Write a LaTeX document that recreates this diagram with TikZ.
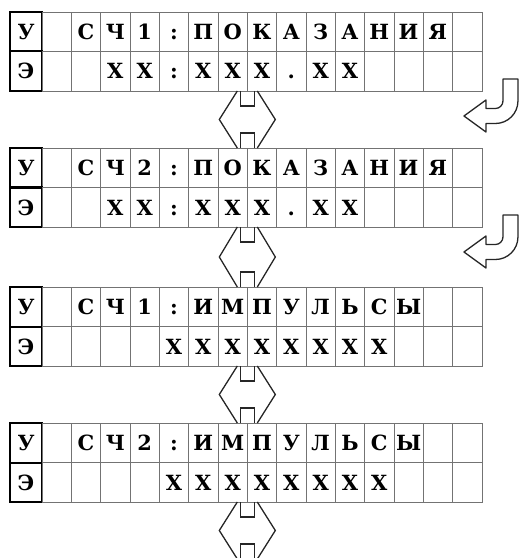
\documentclass[tikz,border=0pt]{standalone}
\usepackage{fontspec}
\newfontfamily\lcdfont{DejaVu Serif}
\usetikzlibrary{calc}

\tikzset{
  cell/.style={draw=black!55, line width=0.9bp, minimum width=29.33bp, minimum height=39.5bp,
    inner sep=0pt, outer sep=0pt, anchor=north west, text height=15.5bp, text depth=0bp,
    font=\lcdfont\bfseries\fontsize{21}{21}\selectfont},
  mode/.style={cell, draw=black, line width=2bp, minimum width=32bp},
  bar/.style={draw=black!85, line width=1.3bp},
}

% one row of a display: name, row, top, characters
\newcommand{\lcdrow}[4]{%
  \foreach \ch [count=\c] in {#4} {
    \ifnum\c=1\relax
      \node[mode] (#1-#2-\c) at (10,#3) {\ch};
    \else
      \node[cell] (#1-#2-\c) at ({42+29.33*(\c-2)},#3) {\ch};
    \fi
  }}

\begin{document}
\begin{tikzpicture}[x=1bp, y=-1bp]
  \useasboundingbox (0,0) rectangle (522,558);

  % displays
  \lcdrow{d1}{1}{12}{У,{},С,Ч,1,:,П,О,К,А,З,А,Н,И,Я,{}}
  \lcdrow{d1}{2}{51.5}{Э,{},{},Х,Х,:,Х,Х,Х,.,Х,Х,{},{},{},{}}
  \lcdrow{d2}{1}{148}{У,{},С,Ч,2,:,П,О,К,А,З,А,Н,И,Я,{}}
  \lcdrow{d2}{2}{187.5}{Э,{},{},Х,Х,:,Х,Х,Х,.,Х,Х,{},{},{},{}}
  \lcdrow{d3}{1}{287}{У,{},С,Ч,1,:,И,М,П,У,Л,Ь,С,Ы,{},{}}
  \lcdrow{d3}{2}{326.5}{Э,{},{},{},{},Х,Х,Х,Х,Х,Х,Х,Х,{},{},{}}
  \lcdrow{d4}{1}{423}{У,{},С,Ч,2,:,И,М,П,У,Л,Ь,С,Ы,{},{}}
  \lcdrow{d4}{2}{462.5}{Э,{},{},{},{},Х,Х,Х,Х,Х,Х,Х,Х,{},{},{}}

  \coordinate (tail) at ($(d4-2-8.south east)+(0,57)$);

  % up/down arrows
  \foreach \u/\l in {d1-2-8.south east/d2-1-8.north east, d2-2-8.south east/d3-1-8.north east,
                     d3-2-8.south east/d4-1-8.north east, d4-2-8.south east/tail} {
    \draw[bar] ([xshift=-7bp]\u) -- ++(0,15) -- ++(14,0) -- ++(0,-15);
    \draw[bar] ([xshift=-7bp]\l) -- ++(0,-15) -- ++(14,0) -- ++(0,15);
    \draw[bar] ([xshift=-10bp]\u) -- ($(\u)!0.5!(\l)+(-28,0)$) -- ([xshift=-10bp]\l);
    \draw[bar] ([xshift=10bp]\u) -- ($(\u)!0.5!(\l)+(28,0)$) -- ([xshift=10bp]\l);
  }

  % return arrows
  \foreach \r in {d1-2-16.south east, d2-2-16.south east}
    \draw[bar, line join=round, shift={(\r)}] (21,-12) -- (36,-12) -- (36,10)
      .. controls (36,22.4) and (25.9,32.5) .. (13.5,32.5) -- (4,32.5) -- (4,41)
      -- (-18,25) -- (4,9) -- (4,17.5) -- (13.5,17.5)
      .. controls (17.6,17.5) and (21,14.1) .. (21,10) -- cycle;
\end{tikzpicture}
\end{document}
